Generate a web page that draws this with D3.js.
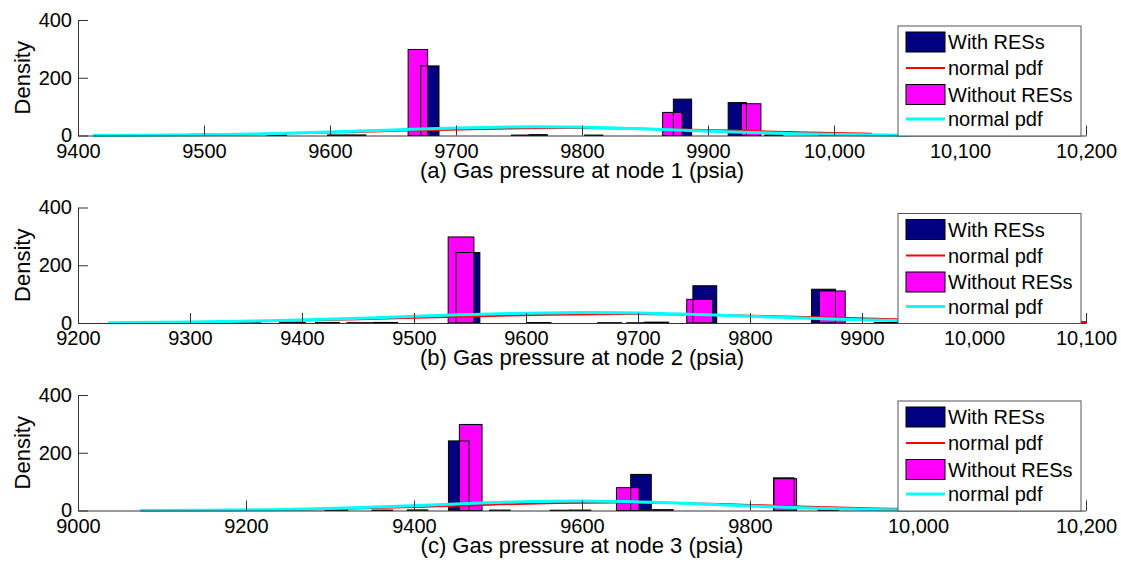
<!DOCTYPE html>
<html>
<head>
<meta charset="utf-8">
<script src="https://cdn.jsdelivr.net/npm/d3@7"></script>
<style>
  html, body { margin: 0; padding: 0; background: #fff; }
  svg { display: block; }
  text { font-family: "Liberation Sans", Arial, Helvetica, sans-serif; fill: #000; }
</style>
</head>
<body>
<svg id="chart" width="1121" height="563"></svg>
<script>
// ---------------- data ----------------
const yTicks = [0, 200, 400];
const yTickLabels = ["0", "200", "400"];
const yLabel = "Density";
const legendLabels = ["With RESs", "normal pdf", "Without RESs", "normal pdf"];
const xLabels = [
  "(a) Gas pressure at node 1 (psia)",
  "(b) Gas pressure at node 2 (psia)",
  "(c) Gas pressure at node 3 (psia)"
];

// panel (a) - node 1
const aDomain = [9400, 10200];
const aTicks = [9400, 9500, 9600, 9700, 9800, 9900, 10000, 10100, 10200];
const aTickLabels = ["9400", "9500", "9600", "9700", "9800", "9900", "10,000", "10,100", "10,200"];
const aWithWidth = 14.5;
const aWithStart = [9614, 9672, 9744, 9758, 9802, 9872.5, 9916, 9945, 9988, 10017];
const aWithDensity = [2, 241, 1.5, 3, 1.5, 126, 114, 2, 1.5, 1];
const aWithoutWidth = 15.5;
const aWithoutStart = [9550, 9598, 9662, 9864, 9926.5];
const aWithoutDensity = [1, 2, 298, 80, 110];
const aRedX = [9487, 9540, 9600, 9660, 9720, 9790, 9860, 9920, 9980, 10030];
const aRedY = [2.5, 5.3, 10.3, 16.9, 22.9, 26, 22.9, 16.9, 10.3, 6.0];
const aCyanX = [9412, 9450, 9500, 9550, 9600, 9650, 9700, 9762, 9820, 9870, 9920, 9970, 10020, 10060];
const aCyanY = [0.4, 0.9, 2.6, 5.9, 11.7, 19.1, 26.1, 30, 26.6, 19.7, 12.2, 6.4, 2.7, 1.2];

// panel (b) - node 2
const bDomain = [9200, 10100];
const bTicks = [9200, 9300, 9400, 9500, 9600, 9700, 9800, 9900, 10000, 10100];
const bTickLabels = ["9200", "9300", "9400", "9500", "9600", "9700", "9800", "9900", "10,000", "10,100"];
const bWithWidth = 21.3;
const bWithStart = [9412, 9464, 9537.5, 9601, 9664, 9706, 9749, 9855, 9911];
const bWithDensity = [2, 2, 244, 1.5, 1, 3, 129, 117, 2];
const bWithoutWidth = 23;
const bWithoutStart = [9340, 9380, 9440, 9530.5, 9690, 9743.5, 9862];
const bWithoutDensity = [1, 1.5, 1, 298, 1, 82, 111];
const bRedX = [9309, 9380, 9460, 9540, 9620, 9690, 9760, 9840, 9920, 10000, 10100];
const bRedY = [3.3, 7.0, 13.7, 21.9, 28.7, 31, 28.7, 21.9, 13.7, 7.0, 3.5];
const bCyanX = [9227, 9300, 9380, 9460, 9540, 9600, 9652, 9720, 9800, 9880, 9960];
const bCyanY = [1.1, 3.2, 8.5, 17.5, 28.2, 34.1, 36, 32.9, 23.5, 13.0, 5.6];

// panel (c) - node 3
const cDomain = [9000, 10200];
const cTicks = [9000, 9200, 9400, 9600, 9800, 10000, 10200];
const cTickLabels = ["9000", "9200", "9400", "9600", "9800", "10,000", "10,200"];
const cWithWidth = 24.5;
const cWithStart = [9350, 9392, 9441, 9490, 9562, 9586, 9658, 9684, 9828, 9881];
const cWithDensity = [1.5, 2, 241, 1.5, 1, 1.5, 125, 3, 113, 2];
const cWithoutWidth = 27;
const cWithoutStart = [9294, 9454, 9641, 9828.5];
const cWithoutDensity = [2.5, 298, 79, 110];
const cRedX = [9173, 9250, 9330, 9410, 9490, 9570, 9640, 9710, 9790, 9870, 9950, 10000];
const cRedY = [1.2, 3.0, 6.9, 12.9, 20.2, 26.1, 28, 26.1, 20.2, 12.9, 6.9, 4.2];
const cCyanX = [9074, 9150, 9230, 9310, 9390, 9470, 9540, 9595, 9650, 9720, 9800, 9880, 9960, 9990];
const cCyanY = [0.2, 0.9, 2.9, 7.4, 15.2, 24.8, 31.2, 33, 31.2, 24.8, 15.2, 7.4, 2.9, 1.9];

// ---------------- drawing ----------------
const COLORS = { with: "#000080", without: "#ff00ff", red: "#ff0000", cyan: "#00ffff", axis: "#333333" };

const panels = [
  { domain: aDomain, ticks: aTicks, tickLabels: aTickLabels, label: xLabels[0],
    withW: aWithWidth, withS: aWithStart, withD: aWithDensity,
    woW: aWithoutWidth, woS: aWithoutStart, woD: aWithoutDensity,
    redX: aRedX, redY: aRedY, cyanX: aCyanX, cyanY: aCyanY },
  { domain: bDomain, ticks: bTicks, tickLabels: bTickLabels, label: xLabels[1],
    withW: bWithWidth, withS: bWithStart, withD: bWithDensity,
    woW: bWithoutWidth, woS: bWithoutStart, woD: bWithoutDensity,
    redX: bRedX, redY: bRedY, cyanX: bCyanX, cyanY: bCyanY },
  { domain: cDomain, ticks: cTicks, tickLabels: cTickLabels, label: xLabels[2],
    withW: cWithWidth, withS: cWithStart, withD: cWithDensity,
    woW: cWithoutWidth, woS: cWithoutStart, woD: cWithoutDensity,
    redX: cRedX, redY: cRedY, cyanX: cCyanX, cyanY: cCyanY }
];

const svg = d3.select("#chart");
const left = 78, plotW = 1008, plotH = 115.5;
const tops = [20, 207.5, 395];

panels.forEach((p, i) => {
  const g = svg.append("g").attr("transform", `translate(${left},${tops[i]})`);
  const x = d3.scaleLinear().domain(p.domain).range([0, plotW]);
  const y = d3.scaleLinear().domain([0, 400]).range([plotH, 0]);

  const withBars = p.withS.map((s, k) => ({ s, e: s + p.withW, v: p.withD[k] }));
  const woBars = p.woS.map((s, k) => ({ s, e: s + p.woW, v: p.woD[k] }));

  const drawFill = (bars, color) => g.append("g").selectAll("rect").data(bars).join("rect")
    .attr("x", d => x(d.s)).attr("width", d => x(d.e) - x(d.s))
    .attr("y", d => y(d.v)).attr("height", d => y(0) - y(d.v))
    .attr("fill", color);
  drawFill(withBars, COLORS.with);
  drawFill(woBars, COLORS.without);
  // outlines of all bars on top
  g.append("g").selectAll("rect").data(withBars.concat(woBars)).join("rect")
    .attr("x", d => x(d.s)).attr("width", d => x(d.e) - x(d.s))
    .attr("y", d => y(d.v)).attr("height", d => y(0) - y(d.v))
    .attr("fill", "none").attr("stroke", "#000").attr("stroke-width", 1);

  const line = d3.line().x(d => x(d[0])).y(d => y(d[1])).curve(d3.curveMonotoneX);
  g.append("path").datum(p.redX.map((v, k) => [v, p.redY[k]]))
    .attr("d", line).attr("fill", "none").attr("stroke", COLORS.red).attr("stroke-width", 2);
  g.append("path").datum(p.cyanX.map((v, k) => [v, p.cyanY[k]]))
    .attr("d", line).attr("fill", "none").attr("stroke", COLORS.cyan).attr("stroke-width", 3);

  // axes
  const xAxis = d3.axisBottom(x).tickValues(p.ticks)
    .tickFormat((d, k) => p.tickLabels[k]).tickSizeInner(-10).tickSizeOuter(0).tickPadding(8);
  const gx = g.append("g").attr("transform", `translate(0,${plotH})`).call(xAxis);
  const yAxis = d3.axisLeft(y).tickValues(yTicks)
    .tickFormat((d, k) => yTickLabels[k]).tickSizeInner(-10).tickSizeOuter(0).tickPadding(6);
  const gy = g.append("g").call(yAxis);
  [gx, gy].forEach(a => {
    a.select(".domain").attr("stroke", COLORS.axis);
    a.selectAll(".tick line").attr("stroke", COLORS.axis);
    a.selectAll(".tick text").attr("font-size", 20)
      .attr("font-family", "'Liberation Sans', Arial, sans-serif").attr("fill", "#000");
  });

  // axis labels
  g.append("text").attr("transform", `translate(-48,${plotH / 2}) rotate(-90)`)
    .attr("text-anchor", "middle").attr("font-size", 22).text(yLabel);
  g.append("text").attr("x", plotW / 2).attr("y", plotH + 42)
    .attr("text-anchor", "middle").attr("font-size", 22).text(p.label);

  // legend
  const lg = g.append("g").attr("transform", `translate(${898 - left},6)`);
  lg.append("rect").attr("width", 183).attr("height", 110)
    .attr("fill", "#fff").attr("stroke", "#555").attr("stroke-width", 1);
  const rowsY = [16, 42, 68.5, 93];
  lg.append("rect").attr("x", 8).attr("y", rowsY[0] - 10).attr("width", 39).attr("height", 20)
    .attr("fill", COLORS.with).attr("stroke", "#000");
  lg.append("line").attr("x1", 8).attr("x2", 47).attr("y1", rowsY[1]).attr("y2", rowsY[1])
    .attr("stroke", COLORS.red).attr("stroke-width", 2);
  lg.append("rect").attr("x", 8).attr("y", rowsY[2] - 10).attr("width", 39).attr("height", 20)
    .attr("fill", COLORS.without).attr("stroke", "#000");
  lg.append("line").attr("x1", 8).attr("x2", 47).attr("y1", rowsY[3]).attr("y2", rowsY[3])
    .attr("stroke", COLORS.cyan).attr("stroke-width", 3);
  legendLabels.forEach((t, k) => {
    lg.append("text").attr("x", 50).attr("y", rowsY[k] + 7).attr("font-size", 20).text(t);
  });
});
</script>
</body>
</html>
